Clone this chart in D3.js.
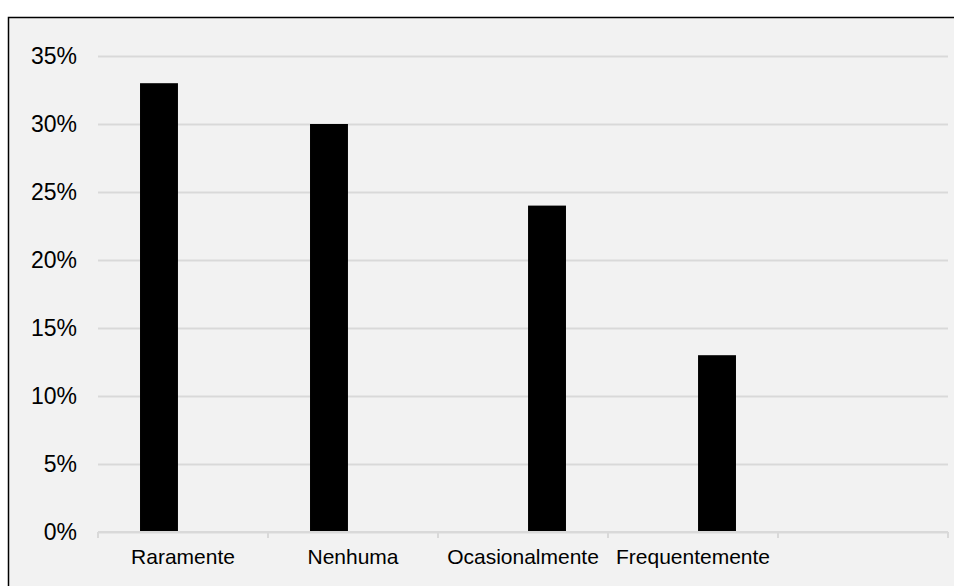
<!DOCTYPE html>
<html>
<head>
<meta charset="utf-8">
<script src="https://cdn.jsdelivr.net/npm/d3@7"></script>
<style>
  body { margin: 0; background: #fff; }
  svg { display: block; }
</style>
</head>
<body>
<div id="graph"></div>
<script>
// Chart data
var categories = ["Raramente", "Nenhuma", "Ocasionalmente", "Frequentemente", ""];
var series_names = ["a", "b"];
var series_a = [33, 30, 0, 0, 0];
var series_b = [0, 0, 24, 13, 0];
var y_ticks = [0, 5, 10, 15, 20, 25, 30, 35];

var WIDTH = 954, HEIGHT = 586;
var LEFT = 98, RIGHT = 948, TOP = 56, BOTTOM = 532;

let svg = d3.select("#graph")
            .append("svg")
              .attr("width", WIDTH)
              .attr("height", HEIGHT);

// Chart area with border (runs off the right and bottom edges)
svg.append("rect")
   .attr("x", 8.5).attr("y", 17.5)
   .attr("width", WIDTH + 20).attr("height", HEIGHT + 20)
   .attr("fill", "#f2f2f2")
   .attr("stroke", "#000")
   .attr("stroke-width", 1.5);

let xscale = d3.scaleBand()
               .domain(categories)
               .range([LEFT, RIGHT]);

// two series side by side in each slot
let xinner = d3.scaleBand()
               .domain(series_names)
               .range([0, xscale.bandwidth()])
               .paddingInner(0.21)
               .paddingOuter(0.875);

let yscale = d3.scaleLinear()
               .domain([0, 35])
               .range([BOTTOM, TOP]);

// Gridlines
let y_axis = d3.axisLeft(yscale)
               .tickValues(y_ticks)
               .tickSize(-(RIGHT - LEFT))
               .tickFormat(d => d + "%");

let yAxisElements = svg.append("g")
                       .attr("transform", "translate(" + LEFT + ",0)")
                       .call(y_axis);

yAxisElements.select(".domain").remove();
yAxisElements.selectAll("line")
             .attr("stroke", "#d9d9d9")
             .attr("stroke-width", 2);
yAxisElements.selectAll("text")
             .attr("x", -21)
             .attr("fill", "#000")
             .style("font-family", "Liberation Sans, Arial, sans-serif")
             .style("font-size", "23px");

// Bars
let data = categories.map((c, i) => ({cat: c, a: series_a[i], b: series_b[i]}));

let groups = svg.selectAll("g.cat")
                .data(data)
                .enter()
                .append("g")
                  .attr("class", "cat")
                  .attr("transform", d => "translate(" + xscale(d.cat) + ",0)");

groups.selectAll("rect")
      .data(d => series_names.map(s => ({key: s, value: d[s]})))
      .enter()
      .append("rect")
        .attr("x", d => xinner(d.key))
        .attr("y", d => yscale(d.value))
        .attr("width", xinner.bandwidth())
        .attr("height", d => BOTTOM - yscale(d.value))
        .attr("fill", "#000");

// X axis
let x_axis = d3.axisBottom(xscale)
               .tickSize(6)
               .tickSizeOuter(6);

let xAxisElements = svg.append("g")
                       .attr("transform", "translate(0," + BOTTOM + ")")
                       .call(x_axis);

// move ticks to slot boundaries
xAxisElements.selectAll(".tick line").remove();
xAxisElements.selectAll(".tick text")
             .attr("y", 32)
             .attr("dy", 0)
             .attr("fill", "#000")
             .style("font-family", "Liberation Sans, Arial, sans-serif")
             .style("font-size", "21px");

let bounds = categories.map(c => xscale(c)).concat([RIGHT]);
xAxisElements.selectAll("line.sep")
             .data(bounds)
             .enter()
             .append("line")
               .attr("class", "sep")
               .attr("x1", d => d).attr("x2", d => d)
               .attr("y1", 0).attr("y2", 6)
               .attr("stroke", "#d9d9d9")
               .attr("stroke-width", 2);

xAxisElements.select(".domain")
             .attr("d", "M" + LEFT + ",0H" + RIGHT)
             .attr("stroke", "#d9d9d9")
             .attr("stroke-width", 2);
</script>
</body>
</html>
